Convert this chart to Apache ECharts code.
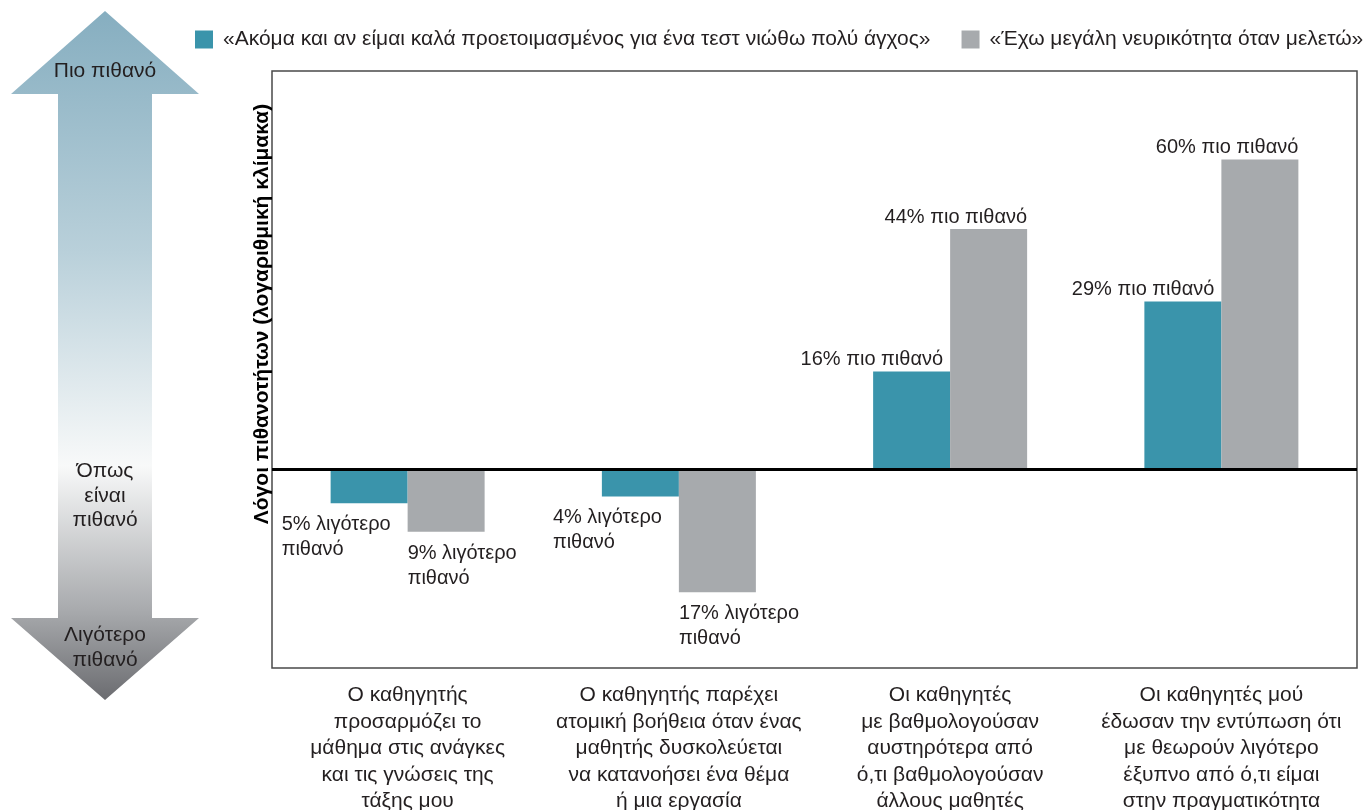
<!DOCTYPE html>
<html>
<head>
<meta charset="utf-8">
<script src="https://cdn.jsdelivr.net/npm/echarts@6/dist/echarts.min.js"></script>
<style>
  html, body { margin: 0; padding: 0; background: #fff; }
  #chart { width: 1363px; height: 810px; }
</style>
</head>
<body>
<div id="chart"></div>
<script>
// odds ratios (1 = as likely)
const categories = [
  'Ο καθηγητής\nπροσαρμόζει το\nμάθημα στις ανάγκες\nκαι τις γνώσεις της\nτάξης μου',
  'Ο καθηγητής παρέχει\nατομική βοήθεια όταν ένας\nμαθητής δυσκολεύεται\nνα κατανοήσει ένα θέμα\nή μια εργασία',
  'Οι καθηγητές\nμε βαθμολογούσαν\nαυστηρότερα από\nό,τι βαθμολογούσαν\nάλλους μαθητές',
  'Οι καθηγητές μού\nέδωσαν την εντύπωση ότι\nμε θεωρούν λιγότερο\nέξυπνο από ό,τι είμαι\nστην πραγματικότητα'
]
const seriesNames = [
  '«Ακόμα και αν είμαι καλά προετοιμασμένος για ένα τεστ νιώθω πολύ άγχος»',
  '«Έχω μεγάλη νευρικότητα όταν μελετώ»'
]
const anxietyTest = [0.95, 0.96, 1.16, 1.29]
const nervousStudy = [0.91, 0.83, 1.44, 1.60]
const anxietyLabels = ['5% λιγότερο\nπιθανό', '4% λιγότερο\nπιθανό', '16% πιο πιθανό', '29% πιο πιθανό']
const nervousLabels = ['9% λιγότερο\nπιθανό', '17% λιγότερο\nπιθανό', '44% πιο πιθανό', '60% πιο πιθανό']
const arrowLabels = ['Πιο πιθανό', 'Όπως\nείναι\nπιθανό', 'Λιγότερο\nπιθανό']
const axisTitle = 'Λόγοι πιθανοτήτων (λογαριθμική κλίμακα)'

const FONT = '"Liberation Sans", Arial, sans-serif'
const INK = '#231f20'

function withLabels(values, labels, isTeal) {
  return values.map((v, i) => {
    const up = v >= 1
    return {
      value: v,
      label: {
        show: true,
        formatter: labels[i],
        position: up ? ['100%', -12] : [isTeal ? -49 : 0, '100%'],
        offset: up ? [isTeal ? -7 : 0, 0] : [0, 9],
        align: up ? 'right' : 'left',
        verticalAlign: up ? 'middle' : 'top',
        fontFamily: FONT,
        fontSize: 20,
        lineHeight: 25,
        color: INK
      }
    }
  })
}

const chart = echarts.init(document.getElementById('chart'), null, { renderer: 'canvas' })

chart.setOption({
  animation: false,
  textStyle: { fontFamily: FONT },
  legend: {
    left: 190,
    top: 24,
    width: 1300,
    itemWidth: 18,
    itemHeight: 18,
    itemGap: 31,
    icon: 'rect',
    textStyle: { fontFamily: FONT, fontSize: 21, color: INK, padding: [0, 0, 0, 5] },
    data: seriesNames
  },
  grid: {
    show: true,
    left: 272,
    right: 6,
    top: 71,
    bottom: 142,
    outerBoundsMode: 'none',
    containLabel: false,
    borderColor: '#4a4a4a',
    borderWidth: 1.5
  },
  xAxis: {
    type: 'category',
    data: categories,
    axisLine: { show: false },
    axisTick: { show: false },
    axisLabel: {
      interval: 0,
      margin: 14,
      fontFamily: FONT,
      fontSize: 21,
      lineHeight: 26.5,
      color: INK,
      align: 'center'
    }
  },
  yAxis: {
    type: 'log',
    logBase: Math.E,
    min: 0.74,
    max: 1.83,
    axisLine: { show: false },
    axisTick: { show: false },
    axisLabel: { show: false },
    splitLine: { show: false }
  },
  graphic: [
    {
      type: 'polygon',
      shape: {
        points: [[105, 11], [199, 94], [152, 94], [152, 618], [199, 618],
                 [105, 700], [11, 618], [58, 618], [58, 94], [11, 94]]
      },
      style: {
        fill: new echarts.graphic.LinearGradient(0, 0, 0, 1, [
          { offset: 0, color: '#86aec0' },
          { offset: 0.35, color: '#b9d0da' },
          { offset: 0.66, color: '#f8f9f9' },
          { offset: 0.87, color: '#a8aaad' },
          { offset: 1, color: '#6b6c70' }
        ])
      }
    },
    {
      type: 'text', position: [105, 71],
      style: { text: arrowLabels[0], font: '21px ' + FONT, fill: INK, textAlign: 'center', textVerticalAlign: 'middle' }
    },
    {
      type: 'text', position: [105, 459],
      style: { text: arrowLabels[1], font: '21px ' + FONT, fill: INK, textAlign: 'center', lineHeight: 24.5 }
    },
    {
      type: 'text', position: [105, 623],
      style: { text: arrowLabels[2], font: '21px ' + FONT, fill: INK, textAlign: 'center', lineHeight: 25 }
    },
    {
      type: 'text',
      position: [262, 314],
      rotation: Math.PI / 2,
      style: {
        text: axisTitle,
        font: 'bold 21px ' + FONT,
        fill: '#000',
        textAlign: 'center',
        textVerticalAlign: 'middle'
      }
    }
  ],
  series: [
    {
      name: seriesNames[0],
      type: 'bar',
      barWidth: 77,
      barGap: '0%',
      itemStyle: { color: '#3a94ab' },
      data: withLabels(anxietyTest, anxietyLabels, true),
      markLine: {
        silent: true,
        symbol: 'none',
        label: { show: false },
        lineStyle: { color: '#000', width: 3, type: 'solid' },
        data: [{ yAxis: 1 }]
      }
    },
    {
      name: seriesNames[1],
      type: 'bar',
      barWidth: 77,
      barGap: '0%',
      itemStyle: { color: '#a7aaad' },
      data: withLabels(nervousStudy, nervousLabels, false)
    }
  ]
})

window.addEventListener('resize', () => chart.resize())
</script>
</body>
</html>
